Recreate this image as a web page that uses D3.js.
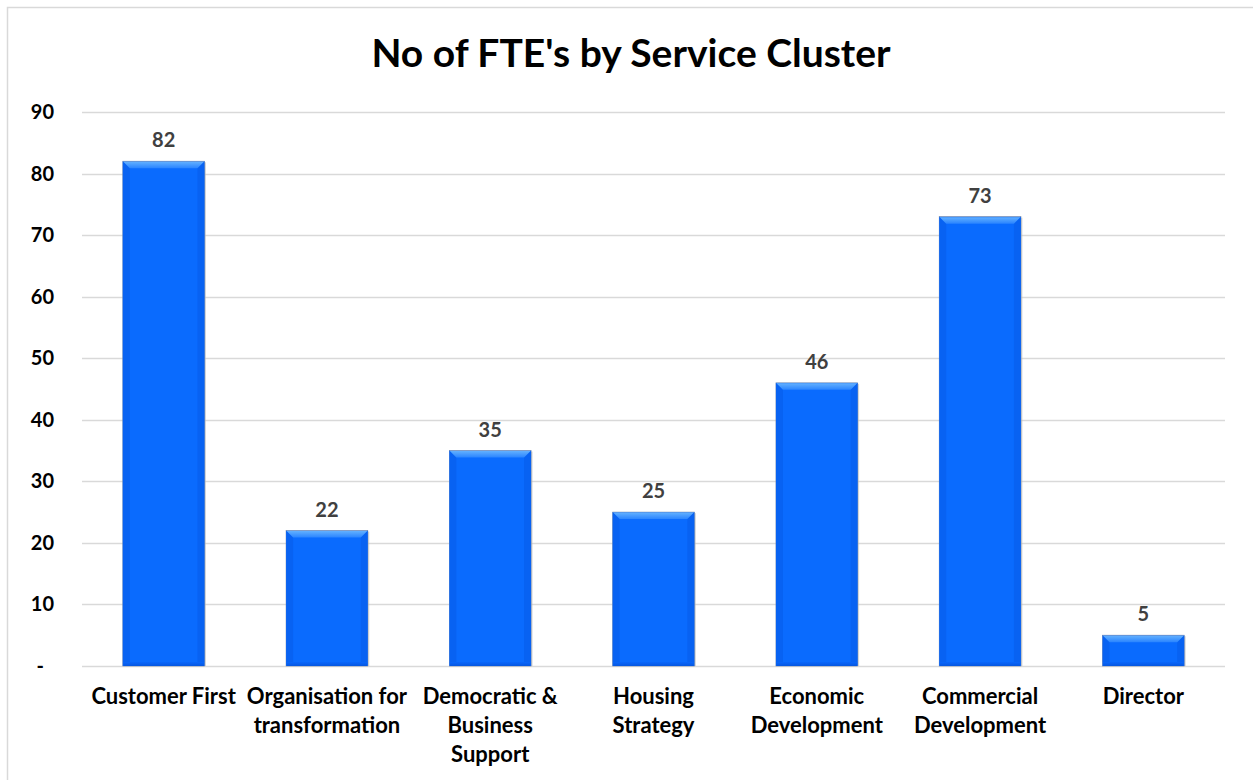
<!DOCTYPE html>
<html lang='en'>
<head>
<meta charset='utf-8'>
<script src='https://cdnjs.cloudflare.com/ajax/libs/d3/7.8.5/d3.min.js'></script>
<title>No of FTE's by Service Cluster</title>
<style>
body { margin:0; background:white; overflow:hidden; }
text { font-family:'Lato', 'Open Sans', sans-serif; font-weight:bold; }
</style>
</head>
<body>
<script>
var categories = ['Customer First', 'Organisation for transformation', 'Democratic & Business Support',
                  'Housing Strategy', 'Economic Development', 'Commercial Development', 'Director'];
var labelLines = [['Customer First'], ['Organisation for', 'transformation'], ['Democratic &', 'Business', 'Support'],
                  ['Housing', 'Strategy'], ['Economic', 'Development'], ['Commercial', 'Development'], ['Director']];
var values = [82, 22, 35, 25, 46, 73, 5];
var yTicks = [0, 10, 20, 30, 40, 50, 60, 70, 80, 90];

var W = 1253, H = 780;
var plotL = 82, plotR = 1225, plotT = 112, plotB = 666;

var svg = d3.select('body').append('svg').attr('width', W).attr('height', H);

var defs = svg.append('defs');
var gTop = defs.append('linearGradient').attr('id', 'topFill').attr('x1', 0).attr('y1', 0).attr('x2', 0).attr('y2', 1);
gTop.append('stop').attr('offset', '0%').attr('stop-color', '#62b0ff');
gTop.append('stop').attr('offset', '100%').attr('stop-color', '#2a84ff');
var gBot = defs.append('linearGradient').attr('id', 'botFill').attr('x1', 0).attr('y1', 0).attr('x2', 0).attr('y2', 1);
gBot.append('stop').attr('offset', '0%').attr('stop-color', '#0966fb');
gBot.append('stop').attr('offset', '100%').attr('stop-color', '#0657e0');

svg.append('rect').attr('x', 7.5).attr('y', 7.5).attr('width', W + 20).attr('height', H + 20)
   .style('fill', 'none').style('stroke', '#d9d9d9').style('stroke-width', 1.5);

var x = d3.scaleBand().domain(categories).range([plotL, plotR]).paddingInner(0.5).paddingOuter(0.25);
var y = d3.scaleLinear().domain([0, 90]).range([plotB, plotT]);

svg.append('g').selectAll('line')
   .data(yTicks)
   .enter()
   .append('line')
   .attr('x1', plotL).attr('x2', plotR)
   .attr('y1', function(d){return Math.round(y(d)) + 0.5;})
   .attr('y2', function(d){return Math.round(y(d)) + 0.5;})
   .style('stroke', '#d9d9d9').style('stroke-width', 1.5);

svg.append('g').selectAll('text')
   .data(yTicks)
   .enter()
   .append('text')
   .attr('x', function(d){return d === 0 ? 44 : 54;})
   .attr('y', function(d){return y(d) + 7;})
   .attr('text-anchor', 'end')
   .style('font-size', '20px').style('fill', '#000')
   .text(function(d){return d === 0 ? '-' : d;});

var bev = 7;
var bars = svg.append('g').selectAll('g')
   .data(values)
   .enter()
   .append('g')
   .attr('transform', function(d, i){return 'translate(' + x(categories[i]) + ',' + y(d) + ')';});

// soft shadow on the right
bars.append('rect')
   .attr('x', 1.5).attr('y', 1)
   .attr('width', x.bandwidth())
   .attr('height', function(d){return plotB - y(d) - 1;})
   .style('fill', '#b8b8b8').style('opacity', 0.6);

bars.append('rect')
   .attr('width', x.bandwidth())
   .attr('height', function(d){return plotB - y(d);})
   .style('fill', '#0a6bfe')
   .style('stroke', '#7d8fae').style('stroke-width', 0.7);

// bevel left / right, only a touch darker
bars.append('polygon')
   .attr('points', function(d){var h = plotB - y(d); return '0,0 ' + bev + ',' + bev + ' ' + bev + ',' + Math.max(bev, h - 4) + ' 0,' + h;})
   .style('fill', '#0862f2');
bars.append('polygon')
   .attr('points', function(d){var w = x.bandwidth(), h = plotB - y(d); return w + ',0 ' + (w - bev) + ',' + bev + ' ' + (w - bev) + ',' + Math.max(bev, h - 4) + ' ' + w + ',' + h;})
   .style('fill', '#0862f2');
// bevel bottom
bars.append('rect')
   .attr('x', 0.5).attr('width', x.bandwidth() - 1)
   .attr('y', function(d){return Math.max(bev, plotB - y(d) - 4);})
   .attr('height', function(d){return Math.min(4, plotB - y(d) - bev);})
   .style('fill', 'url(#botFill)');
// bevel top
bars.append('polygon')
   .attr('points', function(d){var w = x.bandwidth(); return '0.5,0.5 ' + (w - 0.5) + ',0.5 ' + (w - bev) + ',' + bev + ' ' + bev + ',' + bev;})
   .style('fill', 'url(#topFill)');

svg.append('g').selectAll('text')
   .data(values)
   .enter()
   .append('text')
   .attr('x', function(d, i){return x(categories[i]) + x.bandwidth() / 2;})
   .attr('y', function(d){return y(d) - 14;})
   .attr('text-anchor', 'middle')
   .style('font-size', '20px').style('fill', '#404040')
   .text(function(d){return d;});

var xl = svg.append('g').selectAll('text')
   .data(labelLines)
   .enter()
   .append('text')
   .attr('x', function(d, i){return x(categories[i]) + x.bandwidth() / 2;})
   .attr('y', 704)
   .attr('text-anchor', 'middle')
   .style('font-size', '22px').style('fill', '#000');
xl.selectAll('tspan')
   .data(function(d){return d;})
   .enter()
   .append('tspan')
   .attr('x', function(){return d3.select(this.parentNode).attr('x');})
   .attr('dy', function(d, i){return i === 0 ? 0 : 29;})
   .text(function(d){return d;});

svg.append('text')
   .attr('x', 631).attr('y', 67)
   .attr('text-anchor', 'middle')
   .style('font-size', '39px').style('fill', '#000')
   .text("No of FTE's by Service Cluster");
</script>
</body>
</html>
